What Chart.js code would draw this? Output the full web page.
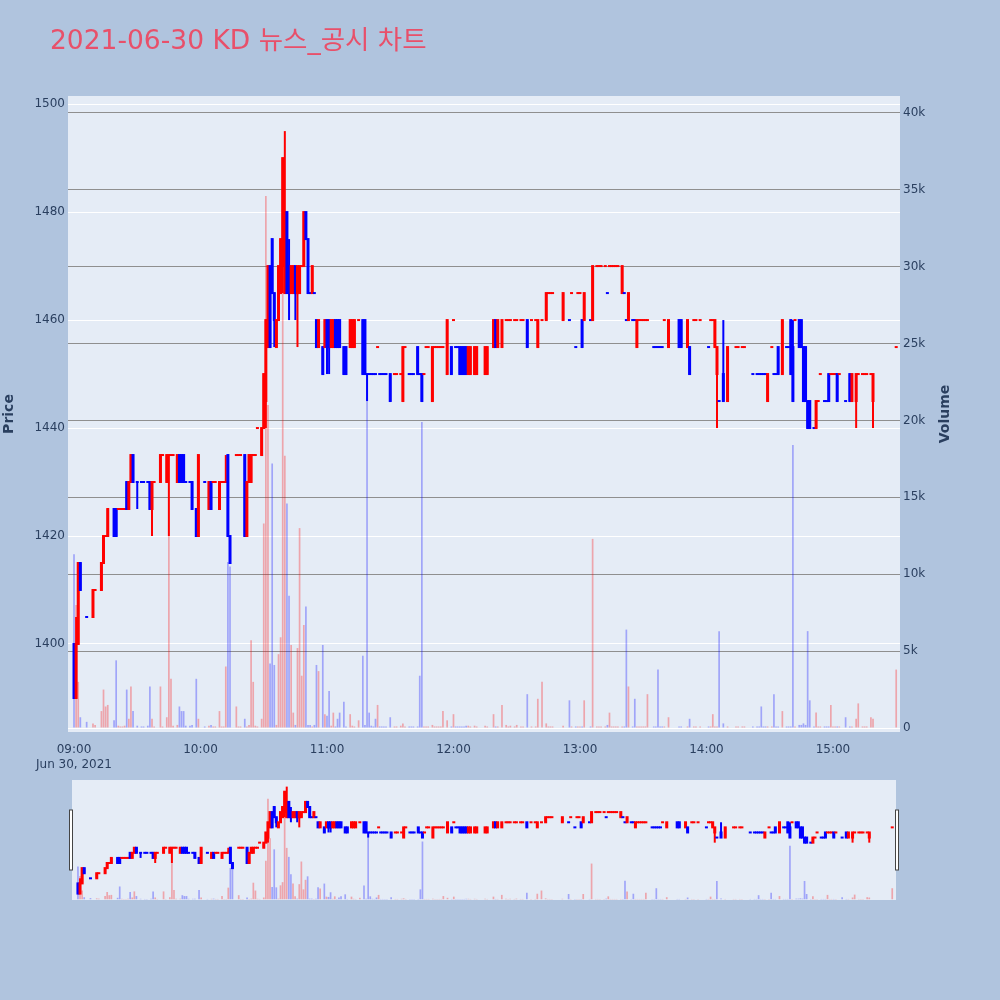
<!DOCTYPE html>
<html>
<head>
<meta charset="utf-8">
<title>2021-06-30 KD 뉴스_공시 차트</title>
<script src="https://cdn.jsdelivr.net/npm/chart.js@4.4.0/dist/chart.umd.min.js"></script>
<style>
  html, body { margin: 0; padding: 0; background: #B0C4DE; }
  #wrap { position: relative; width: 1000px; height: 1000px; overflow: hidden; }
  #main { position: absolute; left: 0; top: 0; }
  #slider { position: absolute; left: 0; top: 780px; }
  #title {
    position: absolute; left: 50px; top: 22px; line-height: 36px;
    font-family: "DejaVu Sans", "Noto Sans CJK KR", sans-serif;
    font-size: 26.5px; color: #E8506A; white-space: nowrap;
  }
</style>
</head>
<body>
<div id="wrap">
  <canvas id="main" width="1000" height="780"></canvas>
  <canvas id="slider" width="1000" height="120"></canvas>
  <div id="title">2021-06-30 KD 뉴스_공시 차트</div>
</div>
<script>
// 1-minute candles
const times = [
  '09:00','09:01','09:02','09:03','09:06','09:09','09:10','09:13','09:14','09:15',
  '09:16','09:19','09:20','09:21','09:22','09:23','09:24','09:25','09:26','09:27',
  '09:28','09:30','09:32','09:33','09:35','09:36','09:37','09:38','09:41','09:42',
  '09:44','09:45','09:46','09:47','09:49','09:50','09:51','09:52','09:53','09:55',
  '09:56','09:58','09:59','10:02','10:04','10:05','10:06','10:07','10:09','10:10',
  '10:11','10:12','10:13','10:14','10:17','10:18','10:19','10:21','10:22','10:23',
  '10:24','10:25','10:26','10:27','10:29','10:30','10:31','10:32','10:33','10:34',
  '10:35','10:36','10:37','10:38','10:39','10:40','10:41','10:42','10:43','10:44',
  '10:45','10:46','10:47','10:48','10:49','10:50','10:51','10:52','10:53','10:54',
  '10:55','10:56','10:58','10:59','11:00','11:01','11:02','11:03','11:04','11:05',
  '11:06','11:08','11:09','11:11','11:12','11:13','11:15','11:17','11:18','11:19',
  '11:20','11:21','11:22','11:23','11:24','11:25','11:26','11:27','11:28','11:30',
  '11:32','11:33','11:35','11:36','11:37','11:39','11:40','11:41','11:43','11:44',
  '11:45','11:46','11:47','11:48','11:50','11:51','11:52','11:53','11:54','11:55',
  '11:57','11:59','12:00','12:01','12:02','12:03','12:04','12:05','12:06','12:07',
  '12:08','12:10','12:11','12:15','12:16','12:19','12:20','12:21','12:23','12:25',
  '12:26','12:27','12:29','12:30','12:32','12:33','12:35','12:37','12:39','12:40',
  '12:42','12:44','12:45','12:46','12:47','12:52','12:55','12:56','12:58','12:59',
  '13:00','13:01','13:02','13:05','13:06','13:08','13:09','13:10','13:12','13:13',
  '13:14','13:15','13:16','13:17','13:18','13:20','13:21','13:22','13:23','13:25',
  '13:26','13:27','13:28','13:29','13:30','13:31','13:32','13:35','13:36','13:37',
  '13:38','13:39','13:40','13:42','13:47','13:48','13:51','13:52','13:54','13:55',
  '13:57','14:01','14:02','14:03','14:04','14:05','14:06','14:08','14:10','14:14',
  '14:15','14:17','14:18','14:22','14:24','14:25','14:26','14:27','14:28','14:29',
  '14:31','14:32','14:33','14:34','14:36','14:38','14:39','14:40','14:41','14:42',
  '14:44','14:45','14:46','14:47','14:48','14:49','14:51','14:52','14:53','14:54',
  '14:56','14:57','14:58','14:59','15:00','15:01','15:02','15:03','15:06','15:08',
  '15:09','15:11','15:12','15:14','15:15','15:16','15:18','15:19','15:30'
];

const open = [
  1400,1390,1400,1415,1405,1405,1410,1410,1415,1420,
  1420,1425,1425,1425,1425,1425,1425,1430,1425,1430,
  1435,1430,1430,1430,1430,1430,1425,1430,1430,1435,
  1430,1435,1435,1435,1430,1435,1435,1435,1430,1430,
  1430,1425,1420,1430,1425,1430,1430,1430,1425,1430,
  1430,1430,1435,1420,1435,1435,1435,1435,1420,1430,
  1430,1435,1435,1440,1435,1440,1445,1455,1470,1475,
  1465,1455,1460,1465,1470,1465,1480,1470,1465,1465,
  1470,1465,1465,1470,1470,1480,1475,1465,1465,1465,
  1460,1455,1455,1455,1460,1460,1455,1455,1460,1460,
  1460,1455,1455,1455,1455,1455,1460,1460,1460,1450,
  1450,1450,1450,1450,1455,1450,1450,1450,1450,1450,
  1450,1450,1450,1445,1455,1450,1450,1450,1455,1450,
  1450,1450,1455,1455,1445,1455,1455,1455,1455,1455,
  1450,1455,1460,1455,1455,1455,1455,1455,1455,1450,
  1450,1450,1450,1450,1450,1455,1460,1455,1455,1460,
  1460,1460,1460,1460,1460,1460,1460,1460,1460,1455,
  1460,1460,1465,1465,1465,1460,1460,1465,1455,1465,
  1465,1460,1460,1460,1460,1470,1470,1470,1470,1465,
  1470,1470,1470,1470,1470,1465,1465,1460,1460,1460,
  1460,1455,1460,1460,1460,1460,1460,1455,1455,1455,
  1455,1455,1460,1455,1460,1460,1455,1455,1460,1460,
  1460,1455,1460,1460,1455,1450,1445,1450,1445,1455,
  1455,1455,1455,1450,1450,1450,1450,1450,1450,1445,
  1455,1450,1450,1455,1450,1455,1455,1460,1455,1460,
  1460,1460,1455,1455,1445,1445,1440,1440,1445,1450,
  1445,1445,1450,1450,1450,1450,1450,1450,1445,1450,
  1445,1445,1450,1450,1450,1450,1450,1445,1455
];

const high = [
  1400,1405,1415,1415,1405,1410,1410,1415,1420,1420,
  1425,1425,1425,1425,1425,1425,1425,1430,1430,1435,
  1435,1430,1430,1430,1430,1430,1430,1430,1435,1435,
  1435,1435,1435,1435,1435,1435,1435,1435,1430,1430,
  1430,1425,1435,1430,1430,1430,1430,1430,1430,1430,
  1430,1435,1435,1420,1435,1435,1435,1435,1430,1435,
  1435,1435,1435,1440,1440,1450,1460,1470,1470,1475,
  1465,1460,1470,1475,1490,1495,1480,1475,1470,1470,
  1470,1470,1470,1470,1480,1480,1475,1465,1470,1465,
  1460,1460,1455,1460,1460,1460,1460,1460,1460,1460,
  1460,1455,1455,1460,1460,1460,1460,1460,1460,1450,
  1450,1450,1450,1450,1455,1450,1450,1450,1450,1450,
  1450,1450,1450,1455,1455,1450,1450,1450,1455,1450,
  1450,1450,1455,1455,1455,1455,1455,1455,1455,1455,
  1460,1455,1460,1455,1455,1455,1455,1455,1455,1455,
  1455,1455,1455,1455,1455,1460,1460,1460,1460,1460,
  1460,1460,1460,1460,1460,1460,1460,1460,1460,1460,
  1460,1465,1465,1465,1465,1465,1460,1465,1455,1465,
  1465,1460,1465,1460,1470,1470,1470,1470,1470,1465,
  1470,1470,1470,1470,1470,1470,1465,1460,1465,1460,
  1460,1460,1460,1460,1460,1460,1460,1455,1455,1455,
  1455,1455,1460,1460,1460,1460,1460,1455,1460,1460,
  1460,1455,1460,1460,1460,1455,1445,1460,1455,1455,
  1455,1455,1455,1450,1450,1450,1450,1450,1450,1450,
  1455,1450,1450,1455,1460,1455,1455,1460,1460,1460,
  1460,1460,1455,1455,1445,1445,1440,1445,1445,1450,
  1445,1445,1450,1450,1450,1450,1450,1450,1445,1450,
  1450,1450,1450,1450,1450,1450,1450,1450,1455
];

const low = [
  1390,1390,1400,1410,1405,1405,1410,1410,1415,1420,
  1420,1420,1420,1425,1425,1425,1425,1425,1425,1430,
  1430,1425,1430,1430,1430,1425,1420,1430,1430,1435,
  1430,1420,1435,1435,1430,1430,1430,1430,1430,1430,
  1425,1420,1420,1430,1425,1425,1430,1430,1425,1430,
  1430,1430,1420,1415,1435,1435,1435,1420,1420,1430,
  1430,1435,1435,1440,1435,1440,1440,1455,1455,1465,
  1455,1455,1460,1465,1465,1465,1465,1460,1465,1465,
  1460,1455,1465,1470,1470,1475,1465,1465,1465,1465,
  1455,1455,1450,1455,1450,1450,1455,1455,1455,1455,
  1455,1450,1450,1455,1455,1455,1460,1450,1450,1445,
  1450,1450,1450,1450,1455,1450,1450,1450,1450,1445,
  1450,1450,1450,1445,1455,1450,1450,1450,1450,1450,
  1445,1450,1455,1455,1445,1455,1455,1455,1455,1455,
  1450,1450,1460,1455,1455,1450,1450,1450,1450,1450,
  1450,1450,1450,1450,1450,1455,1455,1455,1455,1460,
  1460,1460,1460,1460,1460,1460,1455,1460,1460,1455,
  1460,1460,1465,1465,1465,1460,1460,1465,1455,1465,
  1465,1455,1460,1460,1460,1470,1470,1470,1470,1465,
  1470,1470,1470,1470,1470,1465,1465,1460,1460,1460,
  1460,1455,1460,1460,1460,1460,1460,1455,1455,1455,
  1455,1455,1460,1455,1455,1455,1455,1450,1460,1460,
  1460,1455,1460,1460,1455,1440,1445,1445,1445,1455,
  1455,1455,1455,1450,1450,1450,1450,1450,1450,1445,
  1455,1450,1450,1450,1450,1455,1455,1450,1445,1460,
  1455,1455,1445,1445,1440,1440,1440,1440,1445,1450,
  1445,1445,1445,1450,1450,1450,1445,1450,1445,1445,
  1445,1440,1450,1450,1450,1450,1450,1440,1455
];

const close = [
  1390,1400,1415,1410,1405,1410,1410,1415,1420,1420,
  1425,1420,1420,1425,1425,1425,1425,1425,1430,1435,
  1430,1430,1430,1430,1430,1425,1430,1430,1435,1435,
  1435,1435,1435,1435,1435,1430,1430,1430,1430,1430,
  1425,1420,1435,1430,1430,1425,1430,1430,1430,1430,
  1430,1430,1420,1415,1435,1435,1435,1420,1430,1435,
  1435,1435,1435,1440,1440,1450,1460,1470,1455,1465,
  1460,1460,1470,1475,1490,1480,1465,1465,1470,1470,
  1465,1470,1470,1470,1480,1475,1465,1465,1470,1465,
  1455,1460,1450,1460,1455,1455,1460,1460,1455,1455,
  1455,1450,1450,1460,1460,1460,1460,1450,1450,1450,
  1450,1450,1450,1450,1455,1450,1450,1450,1450,1445,
  1450,1450,1450,1455,1455,1450,1450,1450,1450,1450,
  1445,1450,1455,1455,1455,1455,1455,1455,1455,1455,
  1460,1450,1460,1455,1455,1450,1450,1450,1450,1455,
  1455,1455,1455,1455,1455,1460,1455,1460,1460,1460,
  1460,1460,1460,1460,1460,1460,1455,1460,1460,1460,
  1460,1465,1465,1465,1465,1465,1460,1465,1455,1465,
  1465,1455,1465,1460,1470,1470,1470,1470,1470,1465,
  1470,1470,1470,1470,1470,1470,1465,1460,1465,1460,
  1460,1460,1460,1460,1460,1460,1460,1455,1455,1455,
  1455,1455,1460,1460,1455,1455,1460,1450,1460,1460,
  1460,1455,1460,1460,1460,1455,1445,1445,1455,1455,
  1455,1455,1455,1450,1450,1450,1450,1450,1450,1450,
  1455,1450,1450,1450,1460,1455,1455,1450,1445,1460,
  1455,1455,1445,1445,1440,1440,1440,1445,1445,1450,
  1445,1445,1445,1450,1450,1450,1445,1450,1445,1445,
  1450,1450,1450,1450,1450,1450,1450,1450,1455
];

const volume = [
  11300,8000,3000,700,400,300,200,1100,2500,1400,
  1500,500,4400,150,100,100,150,2500,600,2700,
  1100,150,100,100,150,2700,600,100,2700,100,
  700,12500,3200,150,200,1400,1100,1100,150,150,
  200,3200,600,100,150,200,100,100,1100,100,
  100,4000,10800,10500,1400,100,100,600,100,200,
  5700,3000,150,100,600,13300,34600,21000,4200,17200,
  4100,200,4800,5900,35300,17700,14600,8600,5400,1000,
  200,5200,13000,3400,6700,7900,200,200,100,200,
  4100,3700,5400,900,800,2400,150,1000,100,600,
  1000,1700,100,900,150,100,500,4700,200,21500,
  1000,150,100,600,1500,100,100,100,100,700,
  100,100,150,300,100,100,100,100,100,3400,
  19900,100,100,100,200,100,100,100,100,1100,
  500,100,900,100,100,100,100,100,150,150,
  100,150,100,150,100,900,100,100,1500,200,
  100,150,100,200,100,100,2200,100,100,1900,
  3000,300,100,100,100,150,1800,100,100,100,
  100,100,1800,100,12300,100,100,100,100,200,
  1000,100,100,100,100,100,100,6400,2700,100,
  1900,100,100,100,100,100,2200,100,100,3800,
  100,100,100,700,100,100,100,600,100,100,
  100,100,100,900,100,100,6300,300,100,100,
  100,100,100,100,100,100,1400,100,100,100,
  100,2200,100,100,1100,100,100,100,18400,100,
  200,200,300,200,6300,1800,100,1000,100,100,
  100,100,100,1500,100,100,100,100,700,100,
  100,600,1600,100,100,100,700,600,3800
];

const priceTicks = [1400, 1420, 1440, 1460, 1480, 1500];
const volumeTicks = [0, 5000, 10000, 15000, 20000, 25000, 30000, 35000, 40000];
const timeTicks = [0, 60, 120, 180, 240, 300, 360]; // minutes after 09:00

const X_MIN = -2.85, X_MAX = 391.8;
const PRICE_MIN = 1383.7, PRICE_MAX = 1501.5;
const VOL_MIN = -260, VOL_MAX = 41100;

const UP = '#FF0000', DOWN = '#0000FF';
const UP_VOL = 'rgba(255,0,0,0.3)', DOWN_VOL = 'rgba(0,0,255,0.3)';

const minutes = times.map(t => {
  const [h, m] = t.split(':').map(Number);
  return (h - 9) * 60 + m;
});

// flat candles keep the last direction unless the close moved
const rising = [];
let up = true, prevClose = null;
for (let i = 0; i < close.length; i++) {
  if (close[i] !== open[i]) up = close[i] > open[i];
  else if (prevClose !== null && close[i] !== prevClose) up = close[i] > prevClose;
  rising.push(up);
  prevClose = close[i];
}

function hhmm(v) {
  const h = 9 + Math.floor(v / 60);
  const m = v % 60;
  return String(h).padStart(2, '0') + ':' + String(m).padStart(2, '0');
}

function makeDatasets() {
  return [
    {
      label: 'body',
      data: minutes.map((m, i) => ({ x: m, y: [open[i], close[i]] })),
      backgroundColor: rising.map(r => r ? UP : DOWN),
      barThickness: 1, inflateAmount: 1, grouped: false,
      yAxisID: 'y', order: 1
    },
    {
      label: 'wick',
      data: minutes.map((m, i) => ({ x: m, y: [low[i], high[i]] })),
      backgroundColor: rising.map(r => r ? UP : DOWN),
      barThickness: 2, inflateAmount: 0, grouped: false,
      yAxisID: 'y', order: 2
    },
    {
      label: 'Volume',
      data: minutes.map((m, i) => ({ x: m, y: volume[i] })),
      backgroundColor: rising.map(r => r ? UP_VOL : DOWN_VOL),
      barThickness: 1.7, inflateAmount: 0, grouped: false,
      yAxisID: 'y2', order: 3
    }
  ];
}

const plotBg = {
  id: 'plotBg',
  beforeDraw(chart) {
    const { ctx, chartArea: a } = chart;
    ctx.save();
    ctx.fillStyle = '#E5ECF6';
    ctx.fillRect(a.left, a.top, a.right - a.left, a.bottom - a.top);
    ctx.restore();
  }
};

// right axis title reads bottom-to-top like the left one
const volumeTitle = {
  id: 'volumeTitle',
  afterDraw(chart) {
    const ctx = chart.ctx;
    ctx.save();
    ctx.translate(945, (chart.chartArea.top + chart.chartArea.bottom) / 2);
    ctx.rotate(-Math.PI / 2);
    ctx.font = 'bold 14px "DejaVu Sans", Verdana, sans-serif';
    ctx.fillStyle = '#2a3f5f';
    ctx.textAlign = 'center';
    ctx.textBaseline = 'middle';
    ctx.fillText('Volume', 0, 0);
    ctx.restore();
  }
};

const sliderHandles = {
  id: 'sliderHandles',
  afterDraw(chart) {
    const ctx = chart.ctx;
    const a = chart.chartArea;
    const mid = (a.top + a.bottom) / 2;
    ctx.save();
    ctx.fillStyle = '#ffffff';
    ctx.strokeStyle = '#444444';
    ctx.lineWidth = 1;
    [a.left - 2.5, a.right - 0.5].forEach(x => {
      ctx.fillRect(x, mid - 30, 3, 60);
      ctx.strokeRect(x, mid - 30, 3, 60);
    });
    ctx.restore();
  }
};

Chart.defaults.font.family = '"DejaVu Sans", Verdana, sans-serif';
Chart.defaults.font.size = 12;
Chart.defaults.color = '#2a3f5f';

new Chart(document.getElementById('main'), {
  type: 'bar',
  data: { datasets: makeDatasets() },
  options: {
    responsive: false,
    animation: false,
    layout: { padding: { top: 96, left: 0, right: 0, bottom: 0 } },
    plugins: { legend: { display: false }, tooltip: { enabled: false } },
    scales: {
      x: {
        type: 'linear', min: X_MIN, max: X_MAX, offset: false,
        grid: { display: false }, border: { display: false },
        afterBuildTicks: s => { s.ticks = timeTicks.map(v => ({ value: v })); },
        afterFit: s => { s.height = 48; },
        ticks: {
          autoSkip: false, maxRotation: 0, padding: 3,
          callback: v => v === 0 ? [hhmm(v), 'Jun 30, 2021'] : hhmm(v)
        }
      },
      y: {
        position: 'left', min: PRICE_MIN, max: PRICE_MAX,
        grid: { color: '#ffffff', drawTicks: false }, border: { display: false },
        afterBuildTicks: s => { s.ticks = priceTicks.map(v => ({ value: v })); },
        afterFit: s => { s.width = 68; },
        ticks: { padding: 3, callback: v => String(v) },
        title: {
          display: true, text: 'Price',
          font: { size: 14, weight: 'bold' },
          padding: { top: 0.6, bottom: 0 }
        }
      },
      y2: {
        position: 'right', min: VOL_MIN, max: VOL_MAX,
        grid: { color: c => c.tick && c.tick.value === 0 ? '#ffffff' : '#8f8f8f', drawTicks: false },
        border: { display: false },
        afterBuildTicks: s => { s.ticks = volumeTicks.map(v => ({ value: v })); },
        afterFit: s => { s.width = 100; },
        ticks: { padding: 3, callback: v => v === 0 ? '0' : (v / 1000) + 'k' }
      }
    }
  },
  plugins: [plotBg, volumeTitle]
});

// range slider under the chart: same data, whole day
new Chart(document.getElementById('slider'), {
  type: 'bar',
  data: { datasets: makeDatasets() },
  options: {
    responsive: false,
    animation: false,
    layout: { padding: { top: 0, left: 72, right: 104, bottom: 0 } },
    plugins: { legend: { display: false }, tooltip: { enabled: false } },
    scales: {
      x: { type: 'linear', min: X_MIN, max: X_MAX, offset: false, display: false },
      y: { min: PRICE_MIN, max: PRICE_MAX, display: false },
      y2: { position: 'right', min: VOL_MIN, max: VOL_MAX, display: false }
    }
  },
  plugins: [plotBg, sliderHandles]
});
</script>
</body>
</html>
